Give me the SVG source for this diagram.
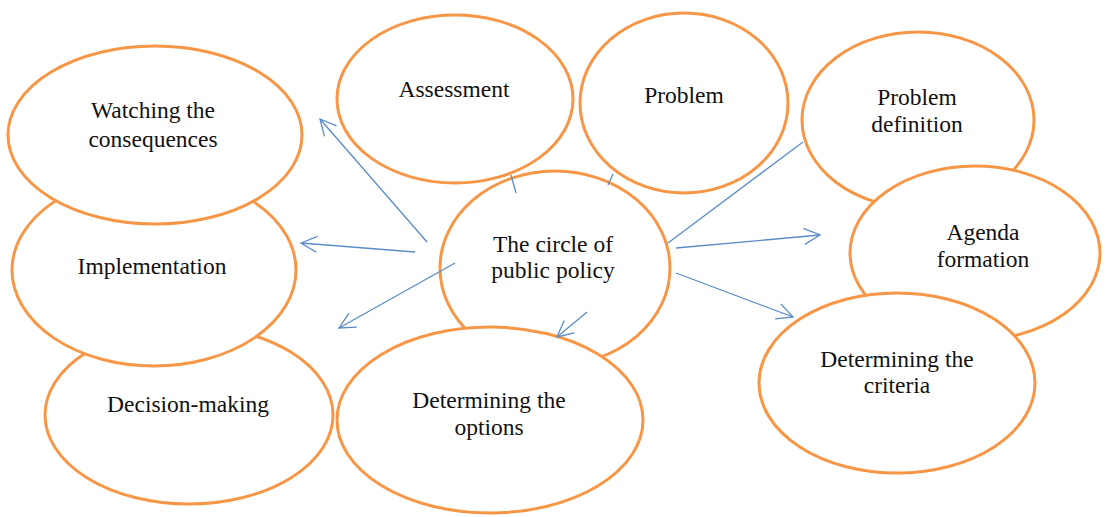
<svg xmlns="http://www.w3.org/2000/svg" width="1108" height="517" viewBox="0 0 1108 517">
<style>
.n{fill:#fff;stroke:#F79646;stroke-width:3}
.t{font-family:"Liberation Serif","Times New Roman",serif;font-size:23.5px;fill:#111;text-anchor:middle}
.c{fill:none;stroke:#5B8CC8;stroke-width:1.3}
</style>
<defs>
<marker id="ah" viewBox="-18 -10 20 20" refX="0" refY="0" markerWidth="20" markerHeight="20" markerUnits="userSpaceOnUse" orient="auto">
<path d="M-16,-8 L0,0 L-16,8" fill="none" stroke="#5B8CC8" stroke-width="1.3"/>
</marker>
</defs>
<rect width="1108" height="517" fill="#fff"/>
<g id="center"><ellipse class="n" cx="555" cy="268" rx="115" ry="97"/></g>
<g id="decision"><ellipse class="n" cx="189" cy="415" rx="144" ry="89"/><text class="t" x="188" y="412">Decision-making</text></g>
<g id="implementation"><ellipse class="n" cx="154" cy="270" rx="142" ry="96"/><text class="t" x="152" y="274">Implementation</text></g>
<g id="watching"><ellipse class="n" cx="155" cy="135" rx="147" ry="89"/><text class="t" x="153" y="118">Watching the</text><text class="t" x="153" y="147">consequences</text></g>
<g id="options"><ellipse class="n" cx="490" cy="420" rx="153" ry="93"/><text class="t" x="489" y="408">Determining the</text><text class="t" x="489" y="435">options</text></g>
<g id="assessment"><ellipse class="n" cx="455" cy="99" rx="118" ry="84"/><text class="t" x="454" y="97">Assessment</text></g>
<g id="problem"><ellipse class="n" cx="684" cy="103" rx="104" ry="90"/><text class="t" x="684" y="103">Problem</text></g>
<g id="problem-definition"><ellipse class="n" cx="918" cy="120" rx="116" ry="88"/><text class="t" x="917" y="105">Problem</text><text class="t" x="917" y="132">definition</text></g>
<g id="agenda"><ellipse class="n" cx="975" cy="253" rx="125" ry="87"/><text class="t" x="983" y="240">Agenda</text><text class="t" x="983" y="267">formation</text></g>
<g id="criteria"><ellipse class="n" cx="897" cy="383" rx="138" ry="90"/><text class="t" x="897" y="367">Determining the</text><text class="t" x="897" y="393">criteria</text></g>
<g id="center-label"><text class="t" x="553" y="252">The circle of</text><text class="t" x="553" y="278">public policy</text></g>
<g id="connectors">
<path class="c" d="M427,242 L320,119" marker-end="url(#ah)"/>
<path class="c" d="M415,252 L301,243" marker-end="url(#ah)"/>
<path class="c" d="M455,263 L339,328" marker-end="url(#ah)"/>
<path class="c" d="M587,312 L557,337" marker-end="url(#ah)"/>
<path class="c" d="M676,248 L820,235" marker-end="url(#ah)"/>
<path class="c" d="M676,273 L793,317" marker-end="url(#ah)"/>
<path class="c" d="M668,243 L803,142"/>
<path class="c" d="M511,175 L516,193"/>
<path class="c" d="M613,174 L608,185"/>
</g>
</svg>
